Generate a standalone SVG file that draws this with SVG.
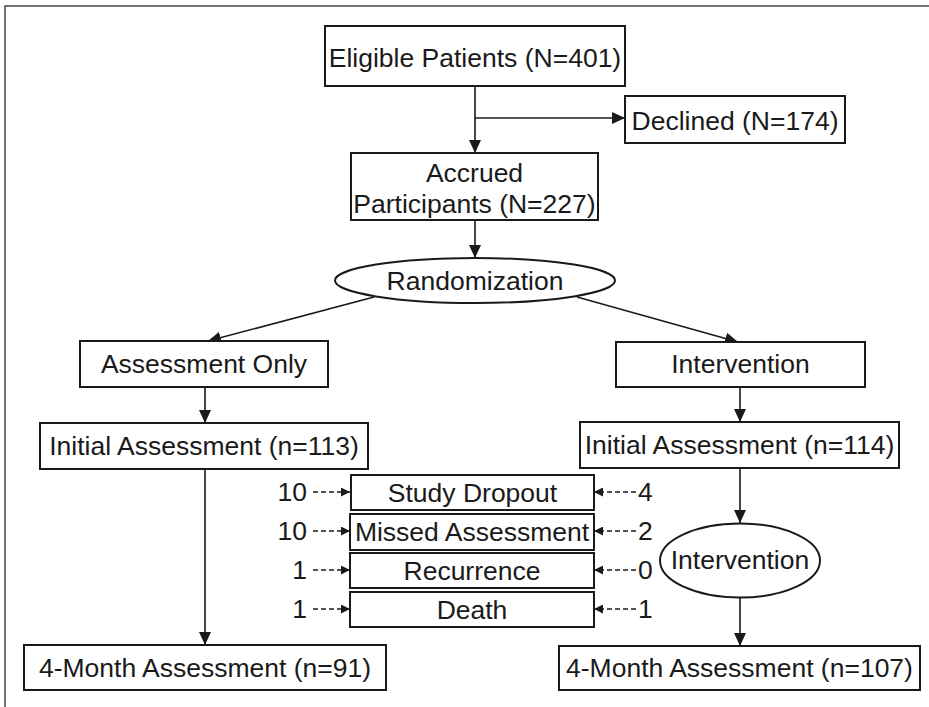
<svg xmlns="http://www.w3.org/2000/svg" width="929" height="707" viewBox="0 0 929 707">
<style>
.box{fill:#fff;stroke:#1a1a1a;stroke-width:2}
.t{font-family:"Liberation Sans",Arial,sans-serif;font-size:26.5px;fill:#1a1a1a;text-anchor:middle}
.n{font-family:"Liberation Sans",Arial,sans-serif;font-size:26.5px;fill:#1a1a1a}
.c{fill:none;stroke:#1a1a1a;stroke-width:1.6}
.d{fill:none;stroke:#1a1a1a;stroke-width:1.4;stroke-dasharray:5 3}
</style>
<defs>
<marker id="ah" markerUnits="userSpaceOnUse" markerWidth="14" markerHeight="12" refX="13" refY="6" orient="auto">
<path d="M0,0 L13,6 L0,12 Z" fill="#1a1a1a"/>
</marker>
<marker id="sh" markerUnits="userSpaceOnUse" markerWidth="10" markerHeight="9" refX="9" refY="4.5" orient="auto">
<path d="M0,0 L9,4.5 L0,9 Z" fill="#1a1a1a"/>
</marker>
</defs>
<rect width="929" height="707" fill="#fff"/>
<path d="M929,6 H5 V707" fill="none" stroke="#444" stroke-width="1.5"/>

<g id="connectors">
<path class="c" d="M475,86 V153" marker-end="url(#ah)"/>
<path class="c" d="M475,118 H625" marker-end="url(#ah)"/>
<path class="c" d="M475,220 V258" marker-end="url(#ah)"/>
<path class="c" d="M374,297 L208,341" marker-end="url(#ah)"/>
<path class="c" d="M577,297 L738,342" marker-end="url(#ah)"/>
<path class="c" d="M205,387 V423" marker-end="url(#ah)"/>
<path class="c" d="M740,387 V422" marker-end="url(#ah)"/>
<path class="c" d="M205,469 V645" marker-end="url(#ah)"/>
<path class="c" d="M740,468 V523" marker-end="url(#ah)"/>
<path class="c" d="M740,598 V646" marker-end="url(#ah)"/>
<path class="d" d="M313,492 H350" marker-end="url(#sh)"/>
<path class="d" d="M313,531 H350" marker-end="url(#sh)"/>
<path class="d" d="M313,570 H350" marker-end="url(#sh)"/>
<path class="d" d="M313,609 H350" marker-end="url(#sh)"/>
<path class="d" d="M636,492 H594" marker-end="url(#sh)"/>
<path class="d" d="M636,531 H594" marker-end="url(#sh)"/>
<path class="d" d="M636,570 H594" marker-end="url(#sh)"/>
<path class="d" d="M636,609 H594" marker-end="url(#sh)"/>
</g>

<g id="eligible"><rect class="box" x="325" y="26" width="300" height="60"/><text class="t" x="475" y="66.5">Eligible Patients (N=401)</text></g>
<g id="declined"><rect class="box" x="625" y="96" width="220" height="47"/><text class="t" x="735" y="129.5">Declined (N=174)</text></g>
<g id="accrued"><rect class="box" x="351" y="153" width="247" height="67"/><text class="t" x="474.5" y="181.5">Accrued</text><text class="t" x="474.5" y="212.5">Participants (N=227)</text></g>
<g id="randomization"><ellipse class="box" cx="475" cy="280.5" rx="140" ry="22.5"/><text class="t" x="475" y="290">Randomization</text></g>
<g id="assessment-only"><rect class="box" x="80" y="341" width="248" height="46"/><text class="t" x="204" y="373">Assessment Only</text></g>
<g id="intervention-arm"><rect class="box" x="616" y="342" width="249" height="45"/><text class="t" x="740.5" y="373">Intervention</text></g>
<g id="initial-113"><rect class="box" x="40" y="423" width="328" height="46"/><text class="t" x="204" y="455">Initial Assessment (n=113)</text></g>
<g id="initial-114"><rect class="box" x="580" y="422" width="319" height="46"/><text class="t" x="739.5" y="454">Initial Assessment (n=114)</text></g>
<g id="dropout"><rect class="box" x="351" y="475" width="243" height="35"/><text class="t" x="472.5" y="502">Study Dropout</text></g>
<g id="missed"><rect class="box" x="350" y="514" width="244" height="36"/><text class="t" x="472" y="541">Missed Assessment</text></g>
<g id="recurrence"><rect class="box" x="350" y="553" width="244" height="35"/><text class="t" x="472" y="580">Recurrence</text></g>
<g id="death"><rect class="box" x="350" y="592" width="244" height="35"/><text class="t" x="472" y="619">Death</text></g>
<g id="intervention"><ellipse class="box" cx="740" cy="560.5" rx="80" ry="37"/><text class="t" x="740" y="569">Intervention</text></g>
<g id="month-91"><rect class="box" x="24" y="645" width="362" height="45"/><text class="t" x="205" y="677">4-Month Assessment (n=91)</text></g>
<g id="month-107"><rect class="box" x="559" y="646" width="361" height="44"/><text class="t" x="739.5" y="677">4-Month Assessment (n=107)</text></g>

<g id="counts">
<text class="n" x="307" y="501" text-anchor="end">10</text>
<text class="n" x="307" y="540" text-anchor="end">10</text>
<text class="n" x="307" y="579" text-anchor="end">1</text>
<text class="n" x="307" y="618" text-anchor="end">1</text>
<text class="n" x="638" y="501">4</text>
<text class="n" x="638" y="540">2</text>
<text class="n" x="638" y="579">0</text>
<text class="n" x="638" y="618">1</text>
</g>
</svg>
